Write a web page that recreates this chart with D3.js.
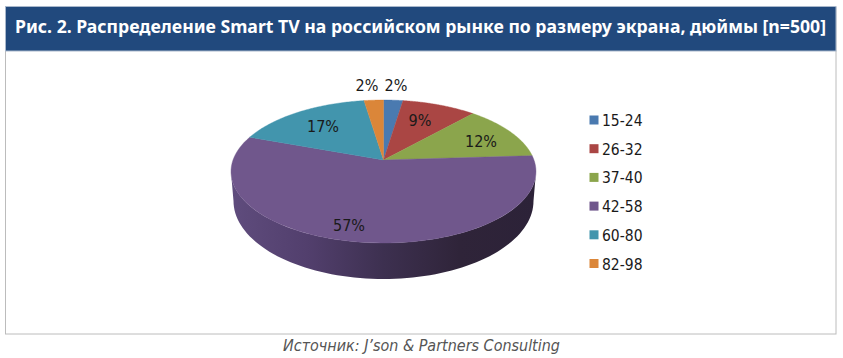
<!DOCTYPE html>
<html><head><meta charset="utf-8">
<script src="https://cdn.jsdelivr.net/npm/d3@7"></script>
<style>html,body{margin:0;padding:0;background:#fff}svg{display:block}</style>
</head><body>
<svg id="c" width="843" height="358"></svg>
<script>
const categories = ["15-24","26-32","37-40","42-58","60-80","82-98"];
const values = [2.4, 9.2, 12.4, 56.6, 17.0, 2.4];
const percentLabels = ["2%","9%","12%","57%","17%","2%"];
const colors = ["#4a7ab0","#aa4644","#8ba54c","#70578c","#4295ad","#db8639"];
const titleText = "Рис. 2. Распределение Smart TV на российском рынке по размеру экрана, дюймы [n=500]";
const sourceText = "Источник: J’son & Partners Consulting";

const svg = d3.select("#c");
const font = "'DejaVu Sans Condensed','DejaVu Sans',sans-serif";

// frame and header
svg.append("rect").attr("x",5.5).attr("y",7.5).attr("width",830.5).attr("height",326.5).attr("fill","#fff").attr("stroke","#bcbcbc");
svg.append("rect").attr("x",5.5).attr("y",6.5).attr("width",830.5).attr("height",44.5).attr("fill","#21497d").attr("stroke","#a9b8cc");
svg.append("text").attr("x",15).attr("y",33).attr("fill","#fff")
  .attr("font-family","'Noto Sans','Open Sans',sans-serif").attr("font-weight",700).attr("font-size",17.5)
  .attr("textLength",811).attr("lengthAdjust","spacingAndGlyphs").text(titleText);
svg.append("text").attr("x",283).attr("y",351).attr("fill","#555")
  .attr("font-family",font).attr("font-style","italic").attr("font-size",15.5)
  .attr("textLength",277).attr("lengthAdjust","spacingAndGlyphs").text(sourceText);

// perspective pie
const apex = {x:383.5,y:160};
const persp = {a:0.161,b:69.65,s:150.5};
const floor = {rx:150,ry:78,cy:201};
const project = (ang) => {
  const u = Math.sin(ang), v = Math.cos(ang), w = 1+persp.a*v;
  return [apex.x + persp.s*u/w, apex.y - persp.b*v/w];
};
const projectFloor = (ang) => [apex.x + floor.rx*Math.sin(ang), floor.cy - floor.ry*Math.cos(ang)];
const pie = d3.pie().sort(null)(values);
const line = d3.line();
const arcPts = (a0,a1,fn) => d3.range(0,81).map(i => fn(a0+(a1-a0)*i/80));

const grad = svg.append("defs").append("linearGradient").attr("id","wall");
[[0,"#5f4c7d"],[0.25,"#523f6d"],[0.5,"#3d3050"],[0.75,"#2f2439"],[1,"#2c2238"]].forEach(([o,c]) =>
  grad.append("stop").attr("offset",o).attr("stop-color",c));

// side wall of the big slice
const wallA0 = Math.PI*100/180, wallA1 = Math.PI*260/180;
const topRim = arcPts(wallA0,wallA1,project);
const botRim = arcPts(Math.PI*3/2,Math.PI/2,projectFloor);
svg.append("path").attr("d", line(topRim.concat(botRim))+"Z").attr("fill","url(#wall)");

// top face
svg.append("g").selectAll("path").data(pie).join("path")
  .attr("d", d => line([[apex.x,apex.y]].concat(arcPts(d.startAngle,d.endAngle,project)))+"Z")
  .attr("fill",(d,i)=>colors[i]).attr("stroke",(d,i)=>colors[i]).attr("stroke-width",0.4);

// labels
const labelPos = [[396,91],[420,126],[481,147],[349,231],[323,132],[367,91]];
svg.append("g").selectAll("text").data(percentLabels).join("text")
  .attr("x",(d,i)=>labelPos[i][0]).attr("y",(d,i)=>labelPos[i][1])
  .attr("text-anchor","middle").attr("fill","#1a1a1a")
  .attr("font-family",font).attr("font-size",16).text(d=>d);

// legend
const ly = d3.scalePoint().domain(categories).range([120,263.5]);
const leg = svg.append("g").selectAll("g").data(categories).join("g")
  .attr("transform",d=>`translate(589.5,${ly(d)})`);
leg.append("rect").attr("x",0).attr("y",-4.5).attr("width",9).attr("height",9).attr("fill",(d,i)=>colors[i]);
leg.append("text").attr("x",12.5).attr("y",6).attr("fill","#1a1a1a")
  .attr("font-family",font).attr("font-size",15.5).text(d=>d);
</script>
</body></html>
